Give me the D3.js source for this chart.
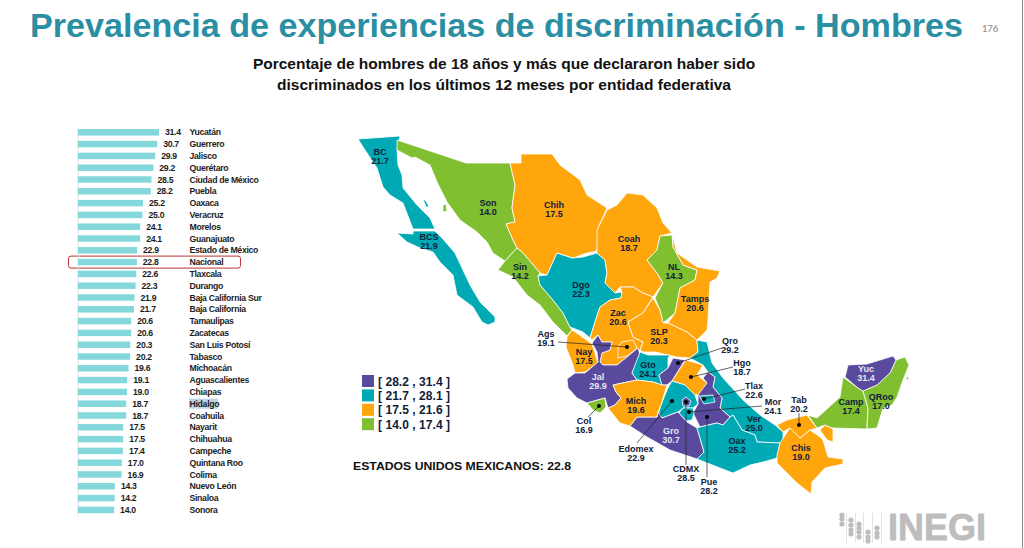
<!DOCTYPE html>
<html lang="es">
<head>
<meta charset="utf-8">
<title>Prevalencia de experiencias de discriminación - Hombres</title>
<script src="https://cdn.jsdelivr.net/npm/d3@7"></script>
<style>
  html, body { margin: 0; padding: 0; background: #fff; overflow: hidden; }
  svg { display: block; font-family: "Liberation Sans", Arial, sans-serif; font-weight: bold; }
</style>
</head>
<body>
<div id="chart"></div>
<script>
// Bar list values, in the order of the picture
const entityNames = ["Yucatán", "Guerrero", "Jalisco", "Querétaro", "Ciudad de México", "Puebla", "Oaxaca", "Veracruz", "Morelos", "Guanajuato", "Estado de México", "Nacional", "Tlaxcala", "Durango", "Baja California Sur", "Baja California", "Tamaulipas", "Zacatecas", "San Luis Potosí", "Tabasco", "Michoacán", "Aguascalientes", "Chiapas", "Hidalgo", "Coahuila", "Nayarit", "Chihuahua", "Campeche", "Quintana Roo", "Colima", "Nuevo León", "Sinaloa", "Sonora"];
const entityValues = [31.4, 30.7, 29.9, 29.2, 28.5, 28.2, 25.2, 25.0, 24.1, 24.1, 22.9, 22.8, 22.6, 22.3, 21.9, 21.7, 20.6, 20.6, 20.3, 20.2, 19.6, 19.1, 19.0, 18.7, 18.7, 17.5, 17.5, 17.4, 17.0, 16.9, 14.3, 14.2, 14.0];
const entityCodes = ["Yuc", "Gro", "Jal", "Qro", "CDMX", "Pue", "Oax", "Ver", "Mor", "Gto", "Edomex", null, "Tlax", "Dgo", "BCS", "BC", "Tamps", "Zac", "SLP", "Tab", "Mich", "Ags", "Chis", "Hgo", "Coah", "Nay", "Chih", "Camp", "QRoo", "Col", "NL", "Sin", "Son"];

// Legend classes
const legendLabels = ["[ 28.2 , 31.4 ]", "[ 21.7 , 28.1 ]", "[ 17.5 , 21.6 ]", "[ 14.0 , 17.4 ]"];
const classBreaks = [17.5, 21.7, 28.2];
const classColors = ["#7fbf30", "#ffa60d", "#00aab4", "#5a4a9e"];

// State outlines (map units)
const stateShapes = {
  BC: [[[358,139],[400,136],[397,150],[398,165],[402,175],[403,188],[417,205],[430,218],[435,229],[413,229],[403,203],[390,195],[383,187],[377,168],[365,150]]],
  BCS: [[[413,231],[435,231],[442,238],[455,253],[462,268],[470,285],[480,302],[495,317],[495,322],[488,325],[482,322],[473,307],[457,295],[453,275],[440,262],[433,252],[420,248],[407,242],[397,233],[413,234]]],
  Son: [[[397,140],[466,163],[510,163],[515,185],[512,208],[515,222],[506,224],[513,240],[517,248],[505,261],[493,253],[487,242],[477,232],[460,220],[447,202],[437,182],[430,165],[415,157],[412,158],[397,150]]],
  Chih: [[[510,163],[521,163],[521,154],[552,154],[560,165],[580,180],[587,195],[607,208],[598,228],[597,251],[587,253],[573,258],[557,253],[547,275],[540,273],[523,253],[517,248],[513,240],[506,224],[515,222],[512,208],[515,185]]],
  Sin: [[[498,270],[505,261],[517,248],[523,253],[540,273],[538,276],[540,285],[553,300],[563,313],[570,327],[572,330],[567,336],[553,322],[540,305],[527,295],[513,277]]],
  Dgo: [[[557,253],[572,258],[583,257],[597,253],[605,260],[607,273],[605,283],[615,293],[622,292],[621,298],[610,300],[600,307],[595,322],[590,338],[583,332],[570,327],[563,313],[553,300],[540,285],[538,276],[547,275]]],
  Coah: [[[607,210],[617,205],[627,193],[643,195],[657,208],[663,223],[672,233],[660,236],[657,250],[647,260],[657,273],[663,283],[653,297],[643,293],[633,287],[620,287],[615,293],[605,283],[607,273],[605,260],[597,253],[597,230]]],
  NL: [[[660,236],[672,235],[673,247],[683,265],[697,270],[695,280],[680,288],[677,303],[675,313],[663,323],[660,310],[655,298],[663,283],[657,273],[647,260],[657,250]]],
  Tamps: [[[673,237],[677,253],[697,267],[720,271],[717,278],[710,282],[709,300],[708,320],[707,330],[697,340],[687,332],[668,323],[675,313],[677,303],[680,288],[695,280],[697,270],[683,265],[673,247]]],
  Zac: [[[620,287],[633,287],[643,293],[653,297],[643,313],[628,322],[633,337],[643,342],[640,350],[627,357],[617,365],[603,365],[600,362],[602,353],[610,350],[612,342],[602,342],[598,335],[592,340],[590,338],[595,322],[600,307],[610,300],[621,298],[622,292]]],
  Ags: [[[618,347],[622,342],[633,340],[637,348],[627,356],[618,358]]],
  SLP: [[[653,298],[660,310],[663,323],[668,323],[687,332],[697,340],[698,352],[690,358],[677,357],[668,355],[655,352],[643,352],[640,350],[643,342],[633,337],[628,322],[643,313]]],
  Nay: [[[572,330],[578,334],[592,344],[595,353],[598,363],[585,372],[575,373],[573,365],[566,347],[567,337]]],
  Jal: [[[567,379],[575,373],[585,373],[598,362],[597,352],[592,343],[598,335],[602,342],[612,342],[610,350],[602,353],[600,362],[603,365],[617,365],[627,357],[638,348],[640,355],[632,373],[637,380],[613,385],[616,392],[621,398],[615,405],[608,408],[605,398],[587,403],[577,398],[568,388]]],
  Gto: [[[640,352],[648,355],[670,355],[668,358],[668,368],[659,375],[662,385],[653,382],[637,380],[632,373]]],
  Qro: [[[673,358],[685,360],[677,373],[672,381],[667,385],[662,385],[659,375],[668,368]]],
  Hgo: [[[686,360],[703,365],[697,375],[707,383],[700,395],[695,395],[685,385],[672,381],[677,373]]],
  Ver: [[[697,340],[707,342],[712,363],[723,378],[743,400],[760,415],[775,425],[783,432],[783,440],[780,443],[757,442],[755,435],[742,430],[733,415],[730,417],[720,408],[722,398],[713,387],[715,377],[708,372],[703,365],[690,358],[698,352]]],
  Pue: [[[708,372],[715,377],[713,387],[722,398],[720,408],[730,417],[723,425],[717,423],[700,427],[693,413],[698,404],[698,395],[707,383],[703,378]]],
  Tlax: [[[699,396],[713,395],[715,402],[704,404]]],
  Edomex: [[[672,381],[685,385],[695,395],[698,404],[693,408],[683,408],[678,412],[662,418],[658,415],[661,405],[667,390]]],
  CDMX: [[[682,400],[686,397],[691,401],[689,406],[683,406]]],
  Mor: [[[683,408],[693,408],[694,413],[692,420],[686,421],[679,413]]],
  Gro: [[[630,426],[637,417],[657,417],[658,412],[662,418],[678,412],[687,422],[697,428],[700,438],[704,452],[697,459],[670,450],[647,437]]],
  Mich: [[[613,385],[637,380],[653,382],[662,385],[667,385],[661,405],[658,412],[657,417],[637,417],[630,426],[620,423],[608,408],[615,405],[621,398],[616,392]]],
  Col: [[[587,403],[605,398],[606,407],[600,413],[593,410]]],
  Oax: [[[697,459],[704,452],[700,438],[697,428],[700,427],[717,423],[723,425],[730,417],[733,415],[742,430],[755,435],[757,442],[780,443],[777,458],[763,462],[750,465],[733,473],[720,468]]],
  Chis: [[[780,443],[790,428],[800,438],[810,430],[820,437],[823,440],[828,457],[843,459],[843,464],[825,468],[812,482],[811,494],[797,483],[777,463],[777,455]]],
  Tab: [[[777,425],[787,420],[807,415],[817,428],[810,430],[800,438],[790,428],[783,432]], [[820,430],[825,425],[833,429],[833,442],[827,440]]],
  Camp: [[[808,415],[817,418],[828,408],[840,397],[843,377],[858,388],[863,391],[868,408],[867,429],[832,428],[825,425],[817,428]]],
  QRoo: [[[863,391],[877,385],[890,373],[896,360],[905,357],[909,365],[903,380],[897,397],[892,405],[883,408],[877,428],[867,429],[868,408]], [[906,378],[909,376],[908,381]]],
  Yuc: [[[845,377],[848,365],[867,364],[893,356],[896,360],[890,373],[877,385],[863,391],[858,388]]]
};
// Small islands that belong to a state
const islandShapes = [
  { code: "Son", ring: [[443,205],[446,204],[447,211],[443,212]] },
  { code: "BC", ring: [[423,199],[426,201],[429,207],[426,207]] }
];

// Map label anchors: code, x, y of first line
const mapLabels = [
  ["BC",380,152],["BCS",429,237],["Son",488,203],["Chih",554,205],["Coah",629,239],["NL",674,267],["Tamps",695,299],["Sin",520,267],["Dgo",581,285],
  ["Zac",618,313],["SLP",659,332],["Ags",546,334],["Nay",584,352],["Jal",598,377],["Gto",648,365],["Mich",636,401],["Col",584,421],["Gro",671,431],
  ["Oax",737,441],["Ver",754,419],["Edomex",636,449],["CDMX",686,469],["Pue",709,482],["Qro",730,341],["Hgo",742,363],["Tlax",754,386],["Mor",773,402],
  ["Tab",799,400],["Chis",801,448],["Camp",851,402],["QRoo",881,397],["Yuc",866,369]
];
const whiteLabels = ["Jal", "Gro", "Yuc"];

// Leader lines: dot position, then the label end
const leaders = [
  [627,347,558,342],[678,363,722,348],[691,377,733,367],[704,399,745,389],[689,412,762,406],
  [799,425,799,413],[599,406,588,417],[672,401,637,443],[686,402,686,465],[707,417,707,477]
];

// Logo dots per column
const logoColumns = [[515,519,524],[520,525,530,534],[524,528,532,537],[532,537,541],[528,533,537]];
const logoColumnX = [842,851,859,868,877];

const width = 1024;
const height = 548;
const textColor = "#10203a";

const svg = d3.select("#chart").append("svg")
    .attr("width", width)
    .attr("height", height);

// Frame edge on the right of the slide
svg.append("line")
    .attr("x1", 1022.5).attr("x2", 1022.5).attr("y1", 0).attr("y2", height)
    .attr("stroke", "#8a8a8a").attr("stroke-width", 1);

// Title, page number, subtitle
svg.append("text")
    .attr("x", 30).attr("y", 37)
    .attr("font-size", 33)
    .attr("fill", "#2a8fa3")
    .attr("textLength", 933)
    .attr("lengthAdjust", "spacingAndGlyphs")
    .text("Prevalencia de experiencias de discriminación - Hombres");

svg.append("text")
    .attr("x", 990).attr("y", 32)
    .attr("text-anchor", "middle")
    .attr("font-size", 11)
    .attr("font-family", "Carlito, 'Open Sans', sans-serif")
    .attr("font-weight", "normal")
    .attr("fill", "#8c8c8c")
    .text("176");

svg.append("g").selectAll("text")
    .data(["Porcentaje de hombres de 18 años y más que declararon haber sido", "discriminados en los últimos 12 meses por entidad federativa"])
    .join("text")
    .attr("x", 504).attr("y", (d, i) => 69 + i * 21)
    .attr("text-anchor", "middle")
    .attr("font-size", 15.5)
    .attr("fill", "#111")
    .text(d => d);

// Bar list
const barData = entityNames.map((name, i) => ({ name, value: entityValues[i] }));

const x = d3.scaleLinear().domain([0, 31.4]).range([78, 159]);
const y = d3.scaleBand()
    .domain(entityNames)
    .range([126.4, 515.8])
    .paddingInner(0.45)
    .paddingOuter(0.225);
const rowMid = name => y(name) + y.bandwidth() / 2;

// Red box round the national row
svg.append("rect")
    .attr("x", 68.5).attr("y", rowMid("Nacional") - 6)
    .attr("width", 172).attr("height", 12)
    .attr("rx", 2.5)
    .attr("fill", "none")
    .attr("stroke", "#b9332f")
    .attr("stroke-width", 1);

// Selection highlight on Hidalgo
svg.append("rect")
    .attr("x", 189).attr("y", rowMid("Hidalgo") - 5)
    .attr("width", 29).attr("height", 10)
    .attr("fill", "#bcd3ea");

svg.append("g")
    .attr("transform", "translate(77.5,0)")
    .call(d3.axisLeft(y).tickSize(0).tickFormat(""))
    .call(g => g.select(".domain").attr("stroke", "#dedede"));

svg.append("g").selectAll("rect")
    .data(barData)
    .join("rect")
    .attr("x", x(0))
    .attr("y", d => y(d.name))
    .attr("width", d => x(d.value) - x(0))
    .attr("height", y.bandwidth())
    .attr("fill", "#84d8dc");

svg.append("g").selectAll("text")
    .data(barData)
    .join("text")
    .attr("x", d => x(d.value) + 6)
    .attr("y", d => rowMid(d.name))
    .attr("dy", "0.35em")
    .attr("font-size", 8.7)
    .attr("letter-spacing", -0.3)
    .attr("fill", "#1c1c1c")
    .text(d => d.value.toFixed(1));

svg.append("g").selectAll("text")
    .data(barData)
    .join("text")
    .attr("x", 189.5)
    .attr("y", d => rowMid(d.name))
    .attr("dy", "0.35em")
    .attr("font-size", 8.7)
    .attr("letter-spacing", -0.3)
    .attr("fill", "#1c1c1c")
    .text(d => d.name);

// Map
const color = d3.scaleThreshold().domain(classBreaks).range(classColors);
const valueByCode = new Map(entityCodes.map((c, i) => [c, entityValues[i]]));
const path = d3.geoPath(d3.geoIdentity());

const features = Object.entries(stateShapes).map(([code, rings]) => ({
    type: "Feature",
    properties: { code },
    geometry: { type: "MultiPolygon", coordinates: rings.map(r => [r.concat([r[0]])]) }
}));
islandShapes.forEach(s => features.push({
    type: "Feature",
    properties: { code: s.code },
    geometry: { type: "Polygon", coordinates: [s.ring.concat([s.ring[0]])] }
}));

svg.append("g").selectAll("path")
    .data(features)
    .join("path")
    .attr("d", path)
    .attr("fill", d => color(valueByCode.get(d.properties.code)))
    .attr("stroke", "#fff")
    .attr("stroke-width", 0.8)
    .attr("stroke-linejoin", "round");

// Leader lines and dots
svg.append("g").selectAll("line")
    .data(leaders)
    .join("line")
    .attr("x1", d => d[0]).attr("y1", d => d[1])
    .attr("x2", d => d[2]).attr("y2", d => d[3])
    .attr("stroke", "#222")
    .attr("stroke-width", 0.7);

svg.append("g").selectAll("circle")
    .data(leaders)
    .join("circle")
    .attr("cx", d => d[0]).attr("cy", d => d[1])
    .attr("r", 2)
    .attr("fill", "#000");

// Map labels
const labelGroups = svg.append("g").selectAll("text")
    .data(mapLabels)
    .join("text")
    .attr("text-anchor", "middle")
    .attr("font-size", 9)
    .attr("fill", d => whiteLabels.includes(d[0]) ? "#e6e6f2" : textColor);

labelGroups.append("tspan")
    .attr("x", d => d[1])
    .attr("y", d => d[2] + 3)
    .text(d => d[0]);

labelGroups.append("tspan")
    .attr("x", d => d[1])
    .attr("y", d => d[2] + 12)
    .text(d => valueByCode.get(d[0]).toFixed(1));

// Legend
const legend = svg.append("g").selectAll("g")
    .data(legendLabels)
    .join("g")
    .attr("transform", (d, i) => `translate(362,${375 + i * 14.4})`);

legend.append("rect")
    .attr("width", 12).attr("height", 12)
    .attr("fill", (d, i) => classColors[classColors.length - 1 - i]);

legend.append("text")
    .attr("x", 16).attr("y", 10.5)
    .attr("font-size", 12)
    .attr("fill", textColor)
    .attr("textLength", 72)
    .text(d => d);

svg.append("text")
    .attr("x", 353).attr("y", 470)
    .attr("font-size", 11.5)
    .attr("fill", "#111")
    .attr("textLength", 218)
    .attr("lengthAdjust", "spacingAndGlyphs")
    .text("ESTADOS UNIDOS MEXICANOS:  22.8");

// INEGI logo
const logo = svg.append("g").attr("fill", "#bdbdbd");
logoColumnX.forEach((cx, i) => {
    logo.append("line")
        .attr("x1", cx + 4.5).attr("x2", cx + 4.5)
        .attr("y1", 513).attr("y2", 543)
        .attr("stroke", "#d8d8d8").attr("stroke-width", 0.7);
    logo.selectAll(null)
        .data(logoColumns[i])
        .join("circle")
        .attr("cx", cx).attr("cy", d => d)
        .attr("r", 2.6);
});
logo.append("text")
    .attr("x", 888).attr("y", 540)
    .attr("font-size", 37.5)
    .attr("stroke", "#bdbdbd")
    .attr("stroke-width", 0.8)
    .attr("textLength", 98)
    .attr("lengthAdjust", "spacingAndGlyphs")
    .text("INEGI");
</script>
</body>
</html>
